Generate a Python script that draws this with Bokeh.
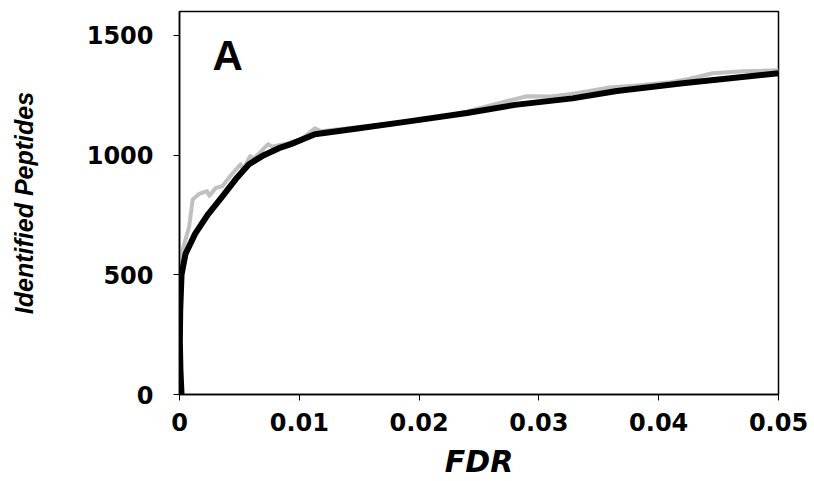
from bokeh.plotting import figure
from bokeh.models import FixedTicker, Label
from bokeh.embed import file_html
from bokeh.resources import INLINE

# FDR / identified peptides
black_fdr = [0.00017, 0.00008, 0.00003, 0.00006, 0.00017, 0.0005, 0.0013, 0.0024, 0.0036,
             0.0047, 0.0058, 0.0069, 0.0083, 0.0093, 0.0113, 0.015, 0.019, 0.024, 0.028,
             0.0328, 0.0365, 0.042, 0.05]
black_pep = [0, 100, 220, 350, 500, 587, 671, 754, 829,
             900, 962, 996, 1029, 1046, 1087, 1112, 1140, 1176, 1210,
             1237, 1268, 1300, 1342]

gray_fdr = [0.0001, 0.00004, 0.0001, 0.0003, 0.0008, 0.0011, 0.0016, 0.0023, 0.0025, 0.003,
            0.0036, 0.0041, 0.0051, 0.0053, 0.0059, 0.0062, 0.0074, 0.0077, 0.0091, 0.0102,
            0.0113, 0.0118, 0.015, 0.0175, 0.02, 0.022, 0.024, 0.0265, 0.029, 0.031,
            0.033, 0.0359, 0.0384, 0.041, 0.0425, 0.0445, 0.047, 0.05]
gray_pep = [0, 300, 530, 612, 700, 815, 837, 850, 830, 862,
            871, 904, 962, 940, 996, 985, 1046, 1035, 1050, 1067,
            1112, 1100, 1118, 1130, 1145, 1160, 1182, 1215, 1246, 1245,
            1258, 1283, 1292, 1305, 1318, 1342, 1350, 1355]

x_ticks = [0, 0.01, 0.02, 0.03, 0.04, 0.05]
x_tick_labels = ["0", "0.01", "0.02", "0.03", "0.04", "0.05"]
y_ticks = [0, 500, 1000, 1500]
y_tick_labels = ["0", "500", "1000", "1500"]

p = figure(width=814, height=481, output_backend="svg", toolbar_location=None,
           x_range=(0, 0.05), y_range=(0, 1600))
p.min_border_left = 179
p.min_border_right = 36
p.min_border_top = 11
p.min_border_bottom = 87

p.line(gray_fdr, gray_pep, line_color="#c0c0c0", line_width=4, line_join="round")
p.line(black_fdr, black_pep, line_color="black", line_width=6, line_join="round")

p.add_layout(Label(x=0.00275, y=1316, text="A", text_font="Liberation Sans",
                   text_font_style="bold", text_font_size="42px", text_color="black"))

p.xgrid.visible = False
p.ygrid.visible = False
p.outline_line_color = "black"
p.outline_line_width = 1.5
p.background_fill_color = "white"
p.border_fill_color = "white"

for ax in (p.xaxis[0], p.yaxis[0]):
    ax.axis_line_color = "black"
    ax.axis_line_width = 1.5
    ax.major_tick_line_color = "black"
    ax.major_tick_out = 6
    ax.major_tick_in = 0
    ax.minor_tick_line_color = None
    ax.major_label_text_font = "DejaVu Sans"
    ax.major_label_text_font_style = "bold"
    ax.major_label_text_font_size = "24px"
    ax.major_label_text_color = "black"
    ax.axis_label_text_color = "black"
    ax.axis_label_text_font_style = "bold italic"

p.xaxis.ticker = FixedTicker(ticks=x_ticks)
p.xaxis.major_label_overrides = {t: s for t, s in zip(x_ticks, x_tick_labels)}
p.yaxis.ticker = FixedTicker(ticks=y_ticks)
p.yaxis.major_label_overrides = {t: s for t, s in zip(y_ticks, y_tick_labels)}

p.xaxis.axis_label = "FDR"
p.xaxis.axis_label_text_font = "DejaVu Sans"
p.xaxis.axis_label_text_font_size = "30px"
p.xaxis.major_label_standoff = 12
p.xaxis.axis_label_standoff = 10

p.yaxis.axis_label = "Identified Peptides"
p.yaxis.axis_label_text_font = "Liberation Sans"
p.yaxis.axis_label_text_font_size = "25px"
p.yaxis.major_label_standoff = 20
p.yaxis.axis_label_standoff = 46

open("out.html", "w").write(file_html(p, INLINE))
